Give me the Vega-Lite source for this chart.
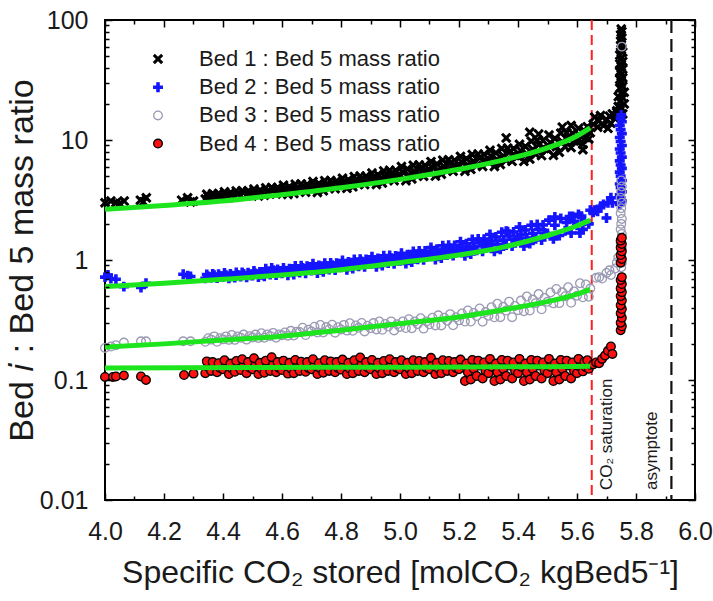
{
"$schema":"https://vega.github.io/schema/vega-lite/v6.json",
"width":590,"height":480,
"autosize":"none",
"padding":{"left":105,"top":20,"right":18,"bottom":101},
"background":"white",
"datasets":{
"pts":[
{"bed":1,"x":4.0,"y":3.0},{"bed":1,"x":4.02,"y":3.1},{"bed":1,"x":4.037,"y":3.0},{"bed":1,"x":4.065,"y":3.1},{"bed":1,"x":4.05,"y":2.95},{"bed":1,"x":4.12,"y":3.15},{"bed":1,"x":4.13,"y":3.05},{"bed":1,"x":4.14,"y":3.3},{"bed":1,"x":4.26,"y":3.15},{"bed":1,"x":4.28,"y":3.3},{"bed":1,"x":4.30,"y":3.1},{"bed":1,"x":4.29,"y":3.05},
{"bed":1,"x":4.34,"y":3.22},{"bed":1,"x":4.35,"y":3.38},{"bed":1,"x":4.345,"y":3.53},
{"bed":1,"x":4.36,"y":3.32},{"bed":1,"x":4.37,"y":3.48},{"bed":1,"x":4.365,"y":3.57},
{"bed":1,"x":4.38,"y":3.32},{"bed":1,"x":4.39,"y":3.43},{"bed":1,"x":4.385,"y":3.58},
{"bed":1,"x":4.40,"y":3.42},{"bed":1,"x":4.41,"y":3.54},{"bed":1,"x":4.405,"y":3.70},
{"bed":1,"x":4.42,"y":3.32},{"bed":1,"x":4.43,"y":3.47},{"bed":1,"x":4.425,"y":3.64},
{"bed":1,"x":4.44,"y":3.36},{"bed":1,"x":4.45,"y":3.56},{"bed":1,"x":4.445,"y":3.76},
{"bed":1,"x":4.46,"y":3.45},{"bed":1,"x":4.47,"y":3.66},{"bed":1,"x":4.465,"y":3.77},
{"bed":1,"x":4.48,"y":3.43},{"bed":1,"x":4.49,"y":3.57},{"bed":1,"x":4.485,"y":3.76},
{"bed":1,"x":4.50,"y":3.55},{"bed":1,"x":4.51,"y":3.70},{"bed":1,"x":4.505,"y":3.90},
{"bed":1,"x":4.52,"y":3.42},{"bed":1,"x":4.53,"y":3.61},{"bed":1,"x":4.525,"y":3.82},
{"bed":1,"x":4.54,"y":3.47},{"bed":1,"x":4.55,"y":3.73},{"bed":1,"x":4.545,"y":3.99},
{"bed":1,"x":4.56,"y":3.58},{"bed":1,"x":4.57,"y":3.86},{"bed":1,"x":4.565,"y":4.02},
{"bed":1,"x":4.58,"y":3.55},{"bed":1,"x":4.59,"y":3.74},{"bed":1,"x":4.585,"y":4.01},
{"bed":1,"x":4.60,"y":3.71},{"bed":1,"x":4.61,"y":3.92},{"bed":1,"x":4.605,"y":4.20},
{"bed":1,"x":4.62,"y":3.52},{"bed":1,"x":4.63,"y":3.78},{"bed":1,"x":4.625,"y":4.08},
{"bed":1,"x":4.64,"y":3.58},{"bed":1,"x":4.65,"y":3.93},{"bed":1,"x":4.645,"y":4.28},
{"bed":1,"x":4.66,"y":3.72},{"bed":1,"x":4.67,"y":4.09},{"bed":1,"x":4.665,"y":4.30},
{"bed":1,"x":4.68,"y":3.67},{"bed":1,"x":4.69,"y":3.92},{"bed":1,"x":4.685,"y":4.27},
{"bed":1,"x":4.70,"y":3.87},{"bed":1,"x":4.71,"y":4.14},{"bed":1,"x":4.705,"y":4.50},
{"bed":1,"x":4.72,"y":3.66},{"bed":1,"x":4.73,"y":3.98},{"bed":1,"x":4.725,"y":4.34},
{"bed":1,"x":4.74,"y":3.77},{"bed":1,"x":4.75,"y":4.17},{"bed":1,"x":4.745,"y":4.58},
{"bed":1,"x":4.76,"y":3.96},{"bed":1,"x":4.77,"y":4.37},{"bed":1,"x":4.765,"y":4.59},
{"bed":1,"x":4.78,"y":3.93},{"bed":1,"x":4.79,"y":4.20},{"bed":1,"x":4.785,"y":4.56},
{"bed":1,"x":4.80,"y":4.17},{"bed":1,"x":4.81,"y":4.44},{"bed":1,"x":4.805,"y":4.80},
{"bed":1,"x":4.82,"y":3.96},{"bed":1,"x":4.83,"y":4.29},{"bed":1,"x":4.825,"y":4.67},
{"bed":1,"x":4.84,"y":4.07},{"bed":1,"x":4.85,"y":4.51},{"bed":1,"x":4.845,"y":4.95},
{"bed":1,"x":4.86,"y":4.28},{"bed":1,"x":4.87,"y":4.74},{"bed":1,"x":4.865,"y":5.00},
{"bed":1,"x":4.88,"y":4.25},{"bed":1,"x":4.89,"y":4.56},{"bed":1,"x":4.885,"y":4.99},
{"bed":1,"x":4.90,"y":4.53},{"bed":1,"x":4.91,"y":4.86},{"bed":1,"x":4.905,"y":5.30},
{"bed":1,"x":4.92,"y":4.26},{"bed":1,"x":4.93,"y":4.67},{"bed":1,"x":4.925,"y":5.15},
{"bed":1,"x":4.94,"y":4.38},{"bed":1,"x":4.95,"y":4.95},{"bed":1,"x":4.945,"y":5.52},
{"bed":1,"x":4.96,"y":4.65},{"bed":1,"x":4.97,"y":5.25},{"bed":1,"x":4.965,"y":5.59},
{"bed":1,"x":4.98,"y":4.58},{"bed":1,"x":4.99,"y":5.01},{"bed":1,"x":4.985,"y":5.58},
{"bed":1,"x":5.00,"y":4.95},{"bed":1,"x":5.01,"y":5.40},{"bed":1,"x":5.005,"y":6.00},
{"bed":1,"x":5.02,"y":4.58},{"bed":1,"x":5.03,"y":5.12},{"bed":1,"x":5.025,"y":5.74},
{"bed":1,"x":5.04,"y":4.74},{"bed":1,"x":5.05,"y":5.45},{"bed":1,"x":5.045,"y":6.16},
{"bed":1,"x":5.06,"y":5.06},{"bed":1,"x":5.07,"y":5.79},{"bed":1,"x":5.065,"y":6.20},
{"bed":1,"x":5.08,"y":4.99},{"bed":1,"x":5.09,"y":5.48},{"bed":1,"x":5.085,"y":6.15},
{"bed":1,"x":5.10,"y":5.41},{"bed":1,"x":5.11,"y":5.92},{"bed":1,"x":5.105,"y":6.60},
{"bed":1,"x":5.12,"y":5.00},{"bed":1,"x":5.13,"y":5.61},{"bed":1,"x":5.125,"y":6.31},
{"bed":1,"x":5.14,"y":5.19},{"bed":1,"x":5.15,"y":5.99},{"bed":1,"x":5.145,"y":6.79},
{"bed":1,"x":5.16,"y":5.56},{"bed":1,"x":5.17,"y":6.38},{"bed":1,"x":5.165,"y":6.84},
{"bed":1,"x":5.18,"y":5.49},{"bed":1,"x":5.19,"y":6.04},{"bed":1,"x":5.185,"y":6.79},
{"bed":1,"x":5.20,"y":5.97},{"bed":1,"x":5.21,"y":6.54},{"bed":1,"x":5.205,"y":7.30},
{"bed":1,"x":5.22,"y":5.50},{"bed":1,"x":5.23,"y":6.19},{"bed":1,"x":5.225,"y":6.99},
{"bed":1,"x":5.24,"y":5.70},{"bed":1,"x":5.25,"y":6.63},{"bed":1,"x":5.245,"y":7.56},
{"bed":1,"x":5.26,"y":6.13},{"bed":1,"x":5.27,"y":7.09},{"bed":1,"x":5.265,"y":7.63},
{"bed":1,"x":5.28,"y":6.02},{"bed":1,"x":5.29,"y":6.69},{"bed":1,"x":5.285,"y":7.58},
{"bed":1,"x":5.30,"y":6.59},{"bed":1,"x":5.31,"y":7.28},{"bed":1,"x":5.305,"y":8.20},
{"bed":1,"x":5.32,"y":6.02},{"bed":1,"x":5.33,"y":6.85},{"bed":1,"x":5.325,"y":7.81},
{"bed":1,"x":5.34,"y":6.26},{"bed":1,"x":5.35,"y":7.37},{"bed":1,"x":5.345,"y":8.48},
{"bed":1,"x":5.36,"y":6.77},{"bed":1,"x":5.37,"y":7.91},{"bed":1,"x":5.365,"y":8.55},
{"bed":1,"x":5.38,"y":6.64},{"bed":1,"x":5.39,"y":7.43},{"bed":1,"x":5.385,"y":8.48},
{"bed":1,"x":5.40,"y":7.31},{"bed":1,"x":5.41,"y":8.12},{"bed":1,"x":5.405,"y":9.20},
{"bed":1,"x":5.42,"y":6.64},{"bed":1,"x":5.43,"y":7.66},{"bed":1,"x":5.425,"y":8.83},
{"bed":1,"x":5.44,"y":6.94},{"bed":1,"x":5.45,"y":8.35},{"bed":1,"x":5.445,"y":9.76},
{"bed":1,"x":5.46,"y":7.60},{"bed":1,"x":5.47,"y":9.12},{"bed":1,"x":5.465,"y":9.96},
{"bed":1,"x":5.48,"y":7.41},{"bed":1,"x":5.49,"y":8.48},{"bed":1,"x":5.485,"y":9.89},
{"bed":1,"x":5.50,"y":8.34},{"bed":1,"x":5.51,"y":9.48},{"bed":1,"x":5.505,"y":11.0},
{"bed":1,"x":5.52,"y":7.46},{"bed":1,"x":5.53,"y":8.80},{"bed":1,"x":5.525,"y":10.3},
{"bed":1,"x":5.54,"y":7.91},{"bed":1,"x":5.55,"y":9.66},{"bed":1,"x":5.545,"y":11.4},
{"bed":1,"x":5.56,"y":8.76},{"bed":1,"x":5.57,"y":10.5},{"bed":1,"x":5.565,"y":11.5},
{"bed":1,"x":5.58,"y":8.64},{"bed":1,"x":5.59,"y":9.82},{"bed":1,"x":5.585,"y":11.4},
{"bed":1,"x":5.60,"y":9.70},{"bed":1,"x":5.61,"y":10.9},{"bed":1,"x":5.605,"y":12.5},
{"bed":1,"x":5.62,"y":9.20},{"bed":1,"x":5.63,"y":10.5},{"bed":1,"x":5.625,"y":11.9},
{"bed":1,"x":5.64,"y":10.2},{"bed":1,"x":5.645,"y":11.5},{"bed":1,"x":5.635,"y":12.9},
{"bed":1,"x":5.36,"y":10.4},{"bed":1,"x":5.44,"y":11.6},{"bed":1,"x":5.55,"y":12.8},{"bed":1,"x":5.62,"y":8.3},{"bed":1,"x":5.58,"y":13.2},{"bed":1,"x":5.47,"y":11.2},
{"bed":1,"x":5.655,"y":13.5},{"bed":1,"x":5.66,"y":15.5},{"bed":1,"x":5.67,"y":12.8},{"bed":1,"x":5.675,"y":14.5},{"bed":1,"x":5.68,"y":16},{"bed":1,"x":5.69,"y":13.2},{"bed":1,"x":5.70,"y":14.8},{"bed":1,"x":5.705,"y":12.5},{"bed":1,"x":5.71,"y":15.8},{"bed":1,"x":5.715,"y":13.8},{"bed":1,"x":5.72,"y":16.5},{"bed":1,"x":5.73,"y":15},{"bed":1,"x":5.735,"y":17},
{"bed":1,"x":5.735,"y":17.5},{"bed":1,"x":5.745,"y":17.5},{"bed":1,"x":5.755,"y":16.5},{"bed":1,"x":5.74,"y":19},{"bed":1,"x":5.75,"y":18.5},{"bed":1,"x":5.76,"y":20},{"bed":1,"x":5.745,"y":21},{"bed":1,"x":5.755,"y":22.5},{"bed":1,"x":5.74,"y":23},{"bed":1,"x":5.75,"y":24.5},{"bed":1,"x":5.76,"y":25},{"bed":1,"x":5.745,"y":27},{"bed":1,"x":5.755,"y":28},{"bed":1,"x":5.75,"y":30},{"bed":1,"x":5.745,"y":32},{"bed":1,"x":5.755,"y":33},{"bed":1,"x":5.75,"y":35},{"bed":1,"x":5.745,"y":37},{"bed":1,"x":5.755,"y":39},{"bed":1,"x":5.75,"y":41},{"bed":1,"x":5.745,"y":43},{"bed":1,"x":5.755,"y":45},{"bed":1,"x":5.75,"y":48},{"bed":1,"x":5.745,"y":51},{"bed":1,"x":5.755,"y":54},{"bed":1,"x":5.75,"y":57},{"bed":1,"x":5.748,"y":61},{"bed":1,"x":5.752,"y":65},{"bed":1,"x":5.75,"y":70},{"bed":1,"x":5.748,"y":75},{"bed":1,"x":5.752,"y":80},{"bed":1,"x":5.75,"y":84},

{"bed":2,"x":4.0,"y":0.72},{"bed":2,"x":4.01,"y":0.75},{"bed":2,"x":4.02,"y":0.70},{"bed":2,"x":4.037,"y":0.69},{"bed":2,"x":4.064,"y":0.60},{"bed":2,"x":4.122,"y":0.59},{"bed":2,"x":4.139,"y":0.64},{"bed":2,"x":4.265,"y":0.76},{"bed":2,"x":4.28,"y":0.74},{"bed":2,"x":4.29,"y":0.73},
{"bed":2,"x":4.34,"y":0.703},{"bed":2,"x":4.35,"y":0.73},{"bed":2,"x":4.345,"y":0.757},
{"bed":2,"x":4.36,"y":0.714},{"bed":2,"x":4.37,"y":0.746},{"bed":2,"x":4.365,"y":0.763},
{"bed":2,"x":4.38,"y":0.708},{"bed":2,"x":4.39,"y":0.73},{"bed":2,"x":4.385,"y":0.76},
{"bed":2,"x":4.40,"y":0.724},{"bed":2,"x":4.41,"y":0.748},{"bed":2,"x":4.405,"y":0.78},
{"bed":2,"x":4.42,"y":0.705},{"bed":2,"x":4.43,"y":0.733},{"bed":2,"x":4.425,"y":0.765},
{"bed":2,"x":4.44,"y":0.714},{"bed":2,"x":4.45,"y":0.75},{"bed":2,"x":4.445,"y":0.786},
{"bed":2,"x":4.46,"y":0.727},{"bed":2,"x":4.47,"y":0.765},{"bed":2,"x":4.465,"y":0.787},
{"bed":2,"x":4.48,"y":0.719},{"bed":2,"x":4.49,"y":0.746},{"bed":2,"x":4.485,"y":0.782},
{"bed":2,"x":4.50,"y":0.744},{"bed":2,"x":4.51,"y":0.772},{"bed":2,"x":4.505,"y":0.81},
{"bed":2,"x":4.52,"y":0.72},{"bed":2,"x":4.53,"y":0.755},{"bed":2,"x":4.525,"y":0.795},
{"bed":2,"x":4.54,"y":0.731},{"bed":2,"x":4.55,"y":0.788},{"bed":2,"x":4.545,"y":0.844},
{"bed":2,"x":4.56,"y":0.758},{"bed":2,"x":4.57,"y":0.821},{"bed":2,"x":4.565,"y":0.856},
{"bed":2,"x":4.58,"y":0.748},{"bed":2,"x":4.59,"y":0.785},{"bed":2,"x":4.585,"y":0.835},
{"bed":2,"x":4.60,"y":0.776},{"bed":2,"x":4.61,"y":0.812},{"bed":2,"x":4.605,"y":0.86},
{"bed":2,"x":4.62,"y":0.745},{"bed":2,"x":4.63,"y":0.792},{"bed":2,"x":4.625,"y":0.846},
{"bed":2,"x":4.64,"y":0.758},{"bed":2,"x":4.65,"y":0.825},{"bed":2,"x":4.645,"y":0.893},
{"bed":2,"x":4.66,"y":0.786},{"bed":2,"x":4.67,"y":0.856},{"bed":2,"x":4.665,"y":0.895},
{"bed":2,"x":4.68,"y":0.776},{"bed":2,"x":4.69,"y":0.824},{"bed":2,"x":4.685,"y":0.888},
{"bed":2,"x":4.70,"y":0.818},{"bed":2,"x":4.71,"y":0.866},{"bed":2,"x":4.705,"y":0.93},
{"bed":2,"x":4.72,"y":0.78},{"bed":2,"x":4.73,"y":0.836},{"bed":2,"x":4.725,"y":0.90},
{"bed":2,"x":4.74,"y":0.798},{"bed":2,"x":4.75,"y":0.87},{"bed":2,"x":4.745,"y":0.942},
{"bed":2,"x":4.76,"y":0.832},{"bed":2,"x":4.77,"y":0.904},{"bed":2,"x":4.765,"y":0.944},
{"bed":2,"x":4.78,"y":0.827},{"bed":2,"x":4.79,"y":0.876},{"bed":2,"x":4.785,"y":0.942},
{"bed":2,"x":4.80,"y":0.871},{"bed":2,"x":4.81,"y":0.922},{"bed":2,"x":4.805,"y":0.99},
{"bed":2,"x":4.82,"y":0.83},{"bed":2,"x":4.83,"y":0.891},{"bed":2,"x":4.825,"y":0.961},
{"bed":2,"x":4.84,"y":0.849},{"bed":2,"x":4.85,"y":0.93},{"bed":2,"x":4.845,"y":1.011},
{"bed":2,"x":4.86,"y":0.887},{"bed":2,"x":4.87,"y":0.97},{"bed":2,"x":4.865,"y":1.017},
{"bed":2,"x":4.88,"y":0.879},{"bed":2,"x":4.89,"y":0.936},{"bed":2,"x":4.885,"y":1.012},
{"bed":2,"x":4.90,"y":0.929},{"bed":2,"x":4.91,"y":0.987},{"bed":2,"x":4.905,"y":1.065},
{"bed":2,"x":4.92,"y":0.88},{"bed":2,"x":4.93,"y":0.95},{"bed":2,"x":4.925,"y":1.03},
{"bed":2,"x":4.94,"y":0.90},{"bed":2,"x":4.95,"y":0.993},{"bed":2,"x":4.945,"y":1.085},
{"bed":2,"x":4.96,"y":0.942},{"bed":2,"x":4.97,"y":1.037},{"bed":2,"x":4.965,"y":1.089},
{"bed":2,"x":4.98,"y":0.932},{"bed":2,"x":4.99,"y":0.996},{"bed":2,"x":4.985,"y":1.082},
{"bed":2,"x":5.00,"y":0.986},{"bed":2,"x":5.01,"y":1.052},{"bed":2,"x":5.005,"y":1.14},
{"bed":2,"x":5.02,"y":0.935},{"bed":2,"x":5.03,"y":1.016},{"bed":2,"x":5.025,"y":1.108},
{"bed":2,"x":5.04,"y":0.962},{"bed":2,"x":5.05,"y":1.07},{"bed":2,"x":5.045,"y":1.178},
{"bed":2,"x":5.06,"y":1.015},{"bed":2,"x":5.07,"y":1.128},{"bed":2,"x":5.065,"y":1.19},
{"bed":2,"x":5.08,"y":1.006},{"bed":2,"x":5.09,"y":1.084},{"bed":2,"x":5.085,"y":1.188},
{"bed":2,"x":5.10,"y":1.078},{"bed":2,"x":5.11,"y":1.16},{"bed":2,"x":5.105,"y":1.27},
{"bed":2,"x":5.12,"y":1.01},{"bed":2,"x":5.13,"y":1.112},{"bed":2,"x":5.125,"y":1.228},
{"bed":2,"x":5.14,"y":1.04},{"bed":2,"x":5.15,"y":1.178},{"bed":2,"x":5.145,"y":1.315},
{"bed":2,"x":5.16,"y":1.104},{"bed":2,"x":5.17,"y":1.248},{"bed":2,"x":5.165,"y":1.328},
{"bed":2,"x":5.18,"y":1.089},{"bed":2,"x":5.19,"y":1.189},{"bed":2,"x":5.185,"y":1.323},
{"bed":2,"x":5.20,"y":1.175},{"bed":2,"x":5.21,"y":1.28},{"bed":2,"x":5.205,"y":1.42},
{"bed":2,"x":5.22,"y":1.085},{"bed":2,"x":5.23,"y":1.216},{"bed":2,"x":5.225,"y":1.366},
{"bed":2,"x":5.24,"y":1.12},{"bed":2,"x":5.25,"y":1.30},{"bed":2,"x":5.245,"y":1.48},
{"bed":2,"x":5.26,"y":1.204},{"bed":2,"x":5.27,"y":1.393},{"bed":2,"x":5.265,"y":1.498},
{"bed":2,"x":5.28,"y":1.184},{"bed":2,"x":5.29,"y":1.316},{"bed":2,"x":5.285,"y":1.492},
{"bed":2,"x":5.30,"y":1.30},{"bed":2,"x":5.31,"y":1.44},{"bed":2,"x":5.305,"y":1.63},
{"bed":2,"x":5.32,"y":1.18},{"bed":2,"x":5.33,"y":1.355},{"bed":2,"x":5.325,"y":1.555},
{"bed":2,"x":5.34,"y":1.227},{"bed":2,"x":5.35,"y":1.465},{"bed":2,"x":5.345,"y":1.704},
{"bed":2,"x":5.36,"y":1.332},{"bed":2,"x":5.37,"y":1.584},{"bed":2,"x":5.365,"y":1.724},
{"bed":2,"x":5.38,"y":1.308},{"bed":2,"x":5.39,"y":1.482},{"bed":2,"x":5.385,"y":1.714},
{"bed":2,"x":5.40,"y":1.46},{"bed":2,"x":5.41,"y":1.64},{"bed":2,"x":5.405,"y":1.88},
{"bed":2,"x":5.42,"y":1.31},{"bed":2,"x":5.43,"y":1.527},{"bed":2,"x":5.425,"y":1.775},
{"bed":2,"x":5.44,"y":1.372},{"bed":2,"x":5.45,"y":1.66},{"bed":2,"x":5.445,"y":1.948},
{"bed":2,"x":5.46,"y":1.504},{"bed":2,"x":5.47,"y":1.806},{"bed":2,"x":5.465,"y":1.973},
{"bed":2,"x":5.48,"y":1.47},{"bed":2,"x":5.49,"y":1.68},{"bed":2,"x":5.485,"y":1.96},
{"bed":2,"x":5.50,"y":1.66},{"bed":2,"x":5.505,"y":2.15},
{"bed":2,"x":5.52,"y":1.5},{"bed":2,"x":5.525,"y":1.95},
{"bed":2,"x":5.54,"y":1.6},{"bed":2,"x":5.545,"y":2.22},
{"bed":2,"x":5.56,"y":1.75},{"bed":2,"x":5.565,"y":2.05},
{"bed":2,"x":5.58,"y":1.68},{"bed":2,"x":5.585,"y":2.3},
{"bed":2,"x":5.60,"y":1.95},{"bed":2,"x":5.605,"y":2.4},
{"bed":2,"x":5.62,"y":1.8},{"bed":2,"x":5.625,"y":2.1},
{"bed":2,"x":5.64,"y":2.0},{"bed":2,"x":5.645,"y":2.6},
{"bed":2,"x":5.36,"y":1.74},{"bed":2,"x":5.525,"y":2.28},{"bed":2,"x":5.575,"y":2.3},{"bed":2,"x":5.61,"y":1.68},{"bed":2,"x":5.615,"y":2.32},{"bed":2,"x":5.59,"y":2.1},
{"bed":2,"x":5.655,"y":2.5},{"bed":2,"x":5.66,"y":2.6},{"bed":2,"x":5.67,"y":2.55},{"bed":2,"x":5.68,"y":2.8},{"bed":2,"x":5.69,"y":2.9},{"bed":2,"x":5.70,"y":2.24},{"bed":2,"x":5.705,"y":3.0},{"bed":2,"x":5.715,"y":3.3},{"bed":2,"x":5.72,"y":3.0},
{"bed":2,"x":5.745,"y":2.9},{"bed":2,"x":5.752,"y":3.1},{"bed":2,"x":5.748,"y":3.3},{"bed":2,"x":5.745,"y":3.5},{"bed":2,"x":5.752,"y":3.7},{"bed":2,"x":5.748,"y":4.0},{"bed":2,"x":5.745,"y":4.3},{"bed":2,"x":5.752,"y":4.6},{"bed":2,"x":5.748,"y":5.0},{"bed":2,"x":5.745,"y":5.4},{"bed":2,"x":5.752,"y":5.8},{"bed":2,"x":5.748,"y":6.2},{"bed":2,"x":5.745,"y":6.7},{"bed":2,"x":5.752,"y":7.2},{"bed":2,"x":5.748,"y":7.8},{"bed":2,"x":5.745,"y":8.4},{"bed":2,"x":5.752,"y":9.0},{"bed":2,"x":5.748,"y":9.7},{"bed":2,"x":5.745,"y":10.5},{"bed":2,"x":5.752,"y":11.3},{"bed":2,"x":5.748,"y":12.2},{"bed":2,"x":5.745,"y":13.2},{"bed":2,"x":5.752,"y":14.2},{"bed":2,"x":5.748,"y":15.2},{"bed":2,"x":5.75,"y":16.2},

{"bed":3,"x":4.0,"y":0.185},{"bed":3,"x":4.02,"y":0.19},{"bed":3,"x":4.037,"y":0.195},{"bed":3,"x":4.064,"y":0.205},{"bed":3,"x":4.122,"y":0.21},{"bed":3,"x":4.139,"y":0.21},{"bed":3,"x":4.265,"y":0.21},{"bed":3,"x":4.29,"y":0.21},
{"bed":3,"x":4.34,"y":0.208},{"bed":3,"x":4.35,"y":0.223},
{"bed":3,"x":4.36,"y":0.217},{"bed":3,"x":4.37,"y":0.231},
{"bed":3,"x":4.38,"y":0.208},{"bed":3,"x":4.39,"y":0.223},
{"bed":3,"x":4.40,"y":0.218},{"bed":3,"x":4.41,"y":0.231},
{"bed":3,"x":4.42,"y":0.216},{"bed":3,"x":4.43,"y":0.237},
{"bed":3,"x":4.44,"y":0.216},{"bed":3,"x":4.45,"y":0.231},
{"bed":3,"x":4.46,"y":0.225},{"bed":3,"x":4.47,"y":0.239},
{"bed":3,"x":4.48,"y":0.217},{"bed":3,"x":4.49,"y":0.232},
{"bed":3,"x":4.50,"y":0.226},{"bed":3,"x":4.51,"y":0.239},
{"bed":3,"x":4.52,"y":0.224},{"bed":3,"x":4.53,"y":0.245},
{"bed":3,"x":4.54,"y":0.225},{"bed":3,"x":4.55,"y":0.24},
{"bed":3,"x":4.56,"y":0.233},{"bed":3,"x":4.57,"y":0.247},
{"bed":3,"x":4.58,"y":0.225},{"bed":3,"x":4.59,"y":0.24},
{"bed":3,"x":4.60,"y":0.236},{"bed":3,"x":4.61,"y":0.249},
{"bed":3,"x":4.62,"y":0.234},{"bed":3,"x":4.63,"y":0.257},
{"bed":3,"x":4.64,"y":0.235},{"bed":3,"x":4.65,"y":0.253},
{"bed":3,"x":4.66,"y":0.251},{"bed":3,"x":4.67,"y":0.273},
{"bed":3,"x":4.68,"y":0.237},{"bed":3,"x":4.69,"y":0.263},
{"bed":3,"x":4.70,"y":0.254},{"bed":3,"x":4.71,"y":0.278},
{"bed":3,"x":4.72,"y":0.249},{"bed":3,"x":4.73,"y":0.287},
{"bed":3,"x":4.74,"y":0.249},{"bed":3,"x":4.75,"y":0.276},
{"bed":3,"x":4.76,"y":0.264},{"bed":3,"x":4.77,"y":0.289},
{"bed":3,"x":4.78,"y":0.248},{"bed":3,"x":4.79,"y":0.275},
{"bed":3,"x":4.80,"y":0.264},{"bed":3,"x":4.81,"y":0.288},
{"bed":3,"x":4.82,"y":0.258},{"bed":3,"x":4.83,"y":0.297},
{"bed":3,"x":4.84,"y":0.257},{"bed":3,"x":4.85,"y":0.285},
{"bed":3,"x":4.86,"y":0.272},{"bed":3,"x":4.87,"y":0.299},
{"bed":3,"x":4.88,"y":0.254},{"bed":3,"x":4.89,"y":0.283},
{"bed":3,"x":4.90,"y":0.27},{"bed":3,"x":4.91,"y":0.298},
{"bed":3,"x":4.92,"y":0.264},{"bed":3,"x":4.93,"y":0.307},
{"bed":3,"x":4.94,"y":0.262},{"bed":3,"x":4.95,"y":0.293},
{"bed":3,"x":4.96,"y":0.279},{"bed":3,"x":4.97,"y":0.308},
{"bed":3,"x":4.98,"y":0.259},{"bed":3,"x":4.99,"y":0.291},
{"bed":3,"x":5.00,"y":0.277},{"bed":3,"x":5.01,"y":0.308},
{"bed":3,"x":5.02,"y":0.271},{"bed":3,"x":5.03,"y":0.321},
{"bed":3,"x":5.04,"y":0.27},{"bed":3,"x":5.05,"y":0.307},
{"bed":3,"x":5.06,"y":0.292},{"bed":3,"x":5.07,"y":0.327},
{"bed":3,"x":5.08,"y":0.268},{"bed":3,"x":5.09,"y":0.308},
{"bed":3,"x":5.10,"y":0.291},{"bed":3,"x":5.11,"y":0.33},
{"bed":3,"x":5.12,"y":0.285},{"bed":3,"x":5.13,"y":0.346},
{"bed":3,"x":5.14,"y":0.285},{"bed":3,"x":5.15,"y":0.33},
{"bed":3,"x":5.16,"y":0.312},{"bed":3,"x":5.17,"y":0.354},
{"bed":3,"x":5.18,"y":0.286},{"bed":3,"x":5.19,"y":0.333},
{"bed":3,"x":5.20,"y":0.314},{"bed":3,"x":5.21,"y":0.358},
{"bed":3,"x":5.22,"y":0.307},{"bed":3,"x":5.23,"y":0.38},
{"bed":3,"x":5.24,"y":0.307},{"bed":3,"x":5.25,"y":0.362},
{"bed":3,"x":5.26,"y":0.341},{"bed":3,"x":5.27,"y":0.395},
{"bed":3,"x":5.28,"y":0.306},{"bed":3,"x":5.29,"y":0.368},
{"bed":3,"x":5.30,"y":0.343},{"bed":3,"x":5.31,"y":0.404},
{"bed":3,"x":5.32,"y":0.333},{"bed":3,"x":5.33,"y":0.432},
{"bed":3,"x":5.34,"y":0.334},{"bed":3,"x":5.35,"y":0.407},
{"bed":3,"x":5.36,"y":0.379},{"bed":3,"x":5.37,"y":0.45},
{"bed":3,"x":5.38,"y":0.334},{"bed":3,"x":5.39,"y":0.414},
{"bed":3,"x":5.40,"y":0.382},{"bed":3,"x":5.41,"y":0.459},
{"bed":3,"x":5.42,"y":0.374},{"bed":3,"x":5.43,"y":0.496},
{"bed":3,"x":5.44,"y":0.379},{"bed":3,"x":5.45,"y":0.468},
{"bed":3,"x":5.46,"y":0.437},{"bed":3,"x":5.47,"y":0.52},
{"bed":3,"x":5.48,"y":0.388},{"bed":3,"x":5.49,"y":0.482},
{"bed":3,"x":5.50,"y":0.448},{"bed":3,"x":5.51,"y":0.536},
{"bed":3,"x":5.52,"y":0.435},{"bed":3,"x":5.53,"y":0.574},
{"bed":3,"x":5.54,"y":0.437},{"bed":3,"x":5.55,"y":0.538},
{"bed":3,"x":5.56,"y":0.499},{"bed":3,"x":5.57,"y":0.593},
{"bed":3,"x":5.58,"y":0.44},{"bed":3,"x":5.59,"y":0.546},
{"bed":3,"x":5.60,"y":0.504},{"bed":3,"x":5.61,"y":0.64},
{"bed":3,"x":5.62,"y":0.489},{"bed":3,"x":5.63,"y":0.625},
{"bed":3,"x":5.64,"y":0.494},{"bed":3,"x":5.645,"y":0.578},
{"bed":3,"x":5.665,"y":0.71},{"bed":3,"x":5.675,"y":0.72},{"bed":3,"x":5.685,"y":0.7},{"bed":3,"x":5.70,"y":0.78},{"bed":3,"x":5.71,"y":0.82},{"bed":3,"x":5.715,"y":0.75},{"bed":3,"x":5.73,"y":0.85},{"bed":3,"x":5.735,"y":0.95},{"bed":3,"x":5.74,"y":1.05},
{"bed":3,"x":5.75,"y":0.87},{"bed":3,"x":5.752,"y":0.95},{"bed":3,"x":5.748,"y":1.05},{"bed":3,"x":5.75,"y":1.15},{"bed":3,"x":5.752,"y":1.25},{"bed":3,"x":5.748,"y":1.38},{"bed":3,"x":5.75,"y":1.5},{"bed":3,"x":5.752,"y":1.65},{"bed":3,"x":5.748,"y":1.8},{"bed":3,"x":5.75,"y":2.0},{"bed":3,"x":5.752,"y":2.2},{"bed":3,"x":5.748,"y":2.45},{"bed":3,"x":5.75,"y":2.7},{"bed":3,"x":5.752,"y":3.0},{"bed":3,"x":5.748,"y":3.3},{"bed":3,"x":5.75,"y":3.7},{"bed":3,"x":5.752,"y":4.1},{"bed":3,"x":5.75,"y":4.6},{"bed":3,"x":5.752,"y":60},

{"bed":4,"x":4.0,"y":0.106},{"bed":4,"x":4.027,"y":0.106},{"bed":4,"x":4.037,"y":0.107},{"bed":4,"x":4.064,"y":0.109},{"bed":4,"x":4.122,"y":0.107},{"bed":4,"x":4.139,"y":0.1},{"bed":4,"x":4.268,"y":0.11},{"bed":4,"x":4.3,"y":0.113},
{"bed":4,"x":4.34,"y":0.114},{"bed":4,"x":4.35,"y":0.128},{"bed":4,"x":4.345,"y":0.143},
{"bed":4,"x":4.36,"y":0.119},{"bed":4,"x":4.37,"y":0.135},{"bed":4,"x":4.365,"y":0.141},
{"bed":4,"x":4.38,"y":0.116},{"bed":4,"x":4.39,"y":0.126},{"bed":4,"x":4.385,"y":0.138},
{"bed":4,"x":4.40,"y":0.123},{"bed":4,"x":4.41,"y":0.132},{"bed":4,"x":4.405,"y":0.146},
{"bed":4,"x":4.42,"y":0.112},{"bed":4,"x":4.43,"y":0.125},{"bed":4,"x":4.425,"y":0.137},
{"bed":4,"x":4.44,"y":0.117},{"bed":4,"x":4.45,"y":0.13},{"bed":4,"x":4.445,"y":0.144},
{"bed":4,"x":4.46,"y":0.121},{"bed":4,"x":4.47,"y":0.133},{"bed":4,"x":4.465,"y":0.149},
{"bed":4,"x":4.48,"y":0.114},{"bed":4,"x":4.49,"y":0.127},{"bed":4,"x":4.485,"y":0.141},
{"bed":4,"x":4.50,"y":0.123},{"bed":4,"x":4.51,"y":0.134},{"bed":4,"x":4.505,"y":0.152},
{"bed":4,"x":4.52,"y":0.112},{"bed":4,"x":4.53,"y":0.124},{"bed":4,"x":4.525,"y":0.139},
{"bed":4,"x":4.54,"y":0.115},{"bed":4,"x":4.55,"y":0.131},{"bed":4,"x":4.545,"y":0.145},
{"bed":4,"x":4.56,"y":0.119},{"bed":4,"x":4.57,"y":0.136},{"bed":4,"x":4.565,"y":0.155},
{"bed":4,"x":4.58,"y":0.116},{"bed":4,"x":4.59,"y":0.126},{"bed":4,"x":4.585,"y":0.141},
{"bed":4,"x":4.60,"y":0.121},{"bed":4,"x":4.61,"y":0.134},{"bed":4,"x":4.605,"y":0.145},
{"bed":4,"x":4.62,"y":0.113},{"bed":4,"x":4.63,"y":0.125},{"bed":4,"x":4.625,"y":0.139},
{"bed":4,"x":4.64,"y":0.114},{"bed":4,"x":4.65,"y":0.129},{"bed":4,"x":4.645,"y":0.147},
{"bed":4,"x":4.66,"y":0.119},{"bed":4,"x":4.67,"y":0.135},{"bed":4,"x":4.665,"y":0.142},
{"bed":4,"x":4.68,"y":0.117},{"bed":4,"x":4.69,"y":0.126},{"bed":4,"x":4.685,"y":0.141},
{"bed":4,"x":4.70,"y":0.123},{"bed":4,"x":4.71,"y":0.133},{"bed":4,"x":4.705,"y":0.149},
{"bed":4,"x":4.72,"y":0.112},{"bed":4,"x":4.73,"y":0.125},{"bed":4,"x":4.725,"y":0.138},
{"bed":4,"x":4.74,"y":0.115},{"bed":4,"x":4.75,"y":0.13},{"bed":4,"x":4.745,"y":0.146},
{"bed":4,"x":4.76,"y":0.119},{"bed":4,"x":4.77,"y":0.136},{"bed":4,"x":4.765,"y":0.143},
{"bed":4,"x":4.78,"y":0.116},{"bed":4,"x":4.79,"y":0.126},{"bed":4,"x":4.785,"y":0.141},
{"bed":4,"x":4.80,"y":0.122},{"bed":4,"x":4.81,"y":0.134},{"bed":4,"x":4.805,"y":0.148},
{"bed":4,"x":4.82,"y":0.112},{"bed":4,"x":4.83,"y":0.124},{"bed":4,"x":4.825,"y":0.139},
{"bed":4,"x":4.84,"y":0.114},{"bed":4,"x":4.85,"y":0.13},{"bed":4,"x":4.845,"y":0.146},
{"bed":4,"x":4.86,"y":0.119},{"bed":4,"x":4.87,"y":0.135},{"bed":4,"x":4.865,"y":0.154},
{"bed":4,"x":4.88,"y":0.116},{"bed":4,"x":4.89,"y":0.127},{"bed":4,"x":4.885,"y":0.141},
{"bed":4,"x":4.90,"y":0.123},{"bed":4,"x":4.91,"y":0.134},{"bed":4,"x":4.905,"y":0.147},
{"bed":4,"x":4.92,"y":0.112},{"bed":4,"x":4.93,"y":0.125},{"bed":4,"x":4.925,"y":0.139},
{"bed":4,"x":4.94,"y":0.114},{"bed":4,"x":4.95,"y":0.13},{"bed":4,"x":4.945,"y":0.144},
{"bed":4,"x":4.96,"y":0.119},{"bed":4,"x":4.97,"y":0.135},{"bed":4,"x":4.965,"y":0.149},
{"bed":4,"x":4.98,"y":0.116},{"bed":4,"x":4.99,"y":0.126},{"bed":4,"x":4.985,"y":0.141},
{"bed":4,"x":5.00,"y":0.123},{"bed":4,"x":5.01,"y":0.134},{"bed":4,"x":5.005,"y":0.146},
{"bed":4,"x":5.02,"y":0.112},{"bed":4,"x":5.03,"y":0.125},{"bed":4,"x":5.025,"y":0.139},
{"bed":4,"x":5.04,"y":0.114},{"bed":4,"x":5.05,"y":0.13},{"bed":4,"x":5.045,"y":0.146},
{"bed":4,"x":5.06,"y":0.119},{"bed":4,"x":5.07,"y":0.135},{"bed":4,"x":5.065,"y":0.144},
{"bed":4,"x":5.08,"y":0.116},{"bed":4,"x":5.09,"y":0.126},{"bed":4,"x":5.085,"y":0.141},
{"bed":4,"x":5.10,"y":0.123},{"bed":4,"x":5.11,"y":0.134},{"bed":4,"x":5.105,"y":0.153},
{"bed":4,"x":5.12,"y":0.112},{"bed":4,"x":5.13,"y":0.125},{"bed":4,"x":5.125,"y":0.139},
{"bed":4,"x":5.14,"y":0.114},{"bed":4,"x":5.15,"y":0.13},{"bed":4,"x":5.145,"y":0.146},
{"bed":4,"x":5.16,"y":0.119},{"bed":4,"x":5.17,"y":0.135},{"bed":4,"x":5.165,"y":0.144},
{"bed":4,"x":5.18,"y":0.116},{"bed":4,"x":5.19,"y":0.126},{"bed":4,"x":5.185,"y":0.141},
{"bed":4,"x":5.20,"y":0.123},{"bed":4,"x":5.21,"y":0.134},{"bed":4,"x":5.205,"y":0.148},
{"bed":4,"x":5.22,"y":0.098},{"bed":4,"x":5.23,"y":0.116},{"bed":4,"x":5.225,"y":0.137},
{"bed":4,"x":5.24,"y":0.101},{"bed":4,"x":5.25,"y":0.124},{"bed":4,"x":5.245,"y":0.147},
{"bed":4,"x":5.26,"y":0.108},{"bed":4,"x":5.27,"y":0.132},{"bed":4,"x":5.265,"y":0.145},
{"bed":4,"x":5.28,"y":0.103},{"bed":4,"x":5.29,"y":0.119},{"bed":4,"x":5.285,"y":0.14},
{"bed":4,"x":5.30,"y":0.114},{"bed":4,"x":5.31,"y":0.129},{"bed":4,"x":5.305,"y":0.15},
{"bed":4,"x":5.32,"y":0.098},{"bed":4,"x":5.33,"y":0.116},{"bed":4,"x":5.325,"y":0.137},
{"bed":4,"x":5.34,"y":0.101},{"bed":4,"x":5.35,"y":0.124},{"bed":4,"x":5.345,"y":0.147},
{"bed":4,"x":5.36,"y":0.108},{"bed":4,"x":5.37,"y":0.132},{"bed":4,"x":5.365,"y":0.145},
{"bed":4,"x":5.38,"y":0.103},{"bed":4,"x":5.39,"y":0.119},{"bed":4,"x":5.385,"y":0.14},
{"bed":4,"x":5.40,"y":0.114},{"bed":4,"x":5.41,"y":0.129},{"bed":4,"x":5.405,"y":0.15},
{"bed":4,"x":5.42,"y":0.098},{"bed":4,"x":5.43,"y":0.116},{"bed":4,"x":5.425,"y":0.137},
{"bed":4,"x":5.44,"y":0.101},{"bed":4,"x":5.45,"y":0.124},{"bed":4,"x":5.445,"y":0.147},
{"bed":4,"x":5.46,"y":0.108},{"bed":4,"x":5.47,"y":0.132},{"bed":4,"x":5.465,"y":0.145},
{"bed":4,"x":5.48,"y":0.103},{"bed":4,"x":5.49,"y":0.119},{"bed":4,"x":5.485,"y":0.14},
{"bed":4,"x":5.50,"y":0.114},{"bed":4,"x":5.51,"y":0.129},{"bed":4,"x":5.505,"y":0.15},
{"bed":4,"x":5.52,"y":0.098},{"bed":4,"x":5.53,"y":0.116},{"bed":4,"x":5.525,"y":0.137},
{"bed":4,"x":5.54,"y":0.101},{"bed":4,"x":5.55,"y":0.124},{"bed":4,"x":5.545,"y":0.147},
{"bed":4,"x":5.56,"y":0.108},{"bed":4,"x":5.57,"y":0.132},{"bed":4,"x":5.565,"y":0.145},
{"bed":4,"x":5.58,"y":0.103},{"bed":4,"x":5.59,"y":0.119},{"bed":4,"x":5.585,"y":0.14},
{"bed":4,"x":5.60,"y":0.114},{"bed":4,"x":5.61,"y":0.129},{"bed":4,"x":5.605,"y":0.15},
{"bed":4,"x":5.62,"y":0.118},{"bed":4,"x":5.63,"y":0.128},{"bed":4,"x":5.625,"y":0.142},
{"bed":4,"x":5.64,"y":0.124},{"bed":4,"x":5.645,"y":0.134},{"bed":4,"x":5.635,"y":0.146},
{"bed":4,"x":5.655,"y":0.135},{"bed":4,"x":5.665,"y":0.14},{"bed":4,"x":5.675,"y":0.138},{"bed":4,"x":5.685,"y":0.15},{"bed":4,"x":5.695,"y":0.16},{"bed":4,"x":5.705,"y":0.175},{"bed":4,"x":5.715,"y":0.19},{"bed":4,"x":5.72,"y":0.165},
{"bed":4,"x":5.748,"y":0.26},{"bed":4,"x":5.752,"y":0.28},{"bed":4,"x":5.748,"y":0.3},{"bed":4,"x":5.752,"y":0.33},{"bed":4,"x":5.748,"y":0.36},{"bed":4,"x":5.752,"y":0.39},{"bed":4,"x":5.748,"y":0.42},{"bed":4,"x":5.752,"y":0.46},{"bed":4,"x":5.748,"y":0.5},{"bed":4,"x":5.752,"y":0.54},{"bed":4,"x":5.748,"y":0.58},{"bed":4,"x":5.752,"y":0.63},{"bed":4,"x":5.748,"y":0.68},{"bed":4,"x":5.752,"y":0.72},
{"bed":4,"x":5.748,"y":0.95},{"bed":4,"x":5.752,"y":1.02},{"bed":4,"x":5.748,"y":1.1},{"bed":4,"x":5.752,"y":1.18},{"bed":4,"x":5.748,"y":1.27},{"bed":4,"x":5.752,"y":1.36},{"bed":4,"x":5.748,"y":1.45},{"bed":4,"x":5.752,"y":1.53}
],
"fit":[
{"bed":1,"x":4.0,"y":2.65},{"bed":1,"x":4.2,"y":2.85},{"bed":1,"x":4.4,"y":3.1},{"bed":1,"x":4.6,"y":3.5},{"bed":1,"x":4.8,"y":4.0},{"bed":1,"x":5.0,"y":4.7},{"bed":1,"x":5.2,"y":5.7},{"bed":1,"x":5.35,"y":6.8},{"bed":1,"x":5.5,"y":8.6},{"bed":1,"x":5.6,"y":10.8},{"bed":1,"x":5.645,"y":12.6},
{"bed":2,"x":4.0,"y":0.6},{"bed":2,"x":4.2,"y":0.64},{"bed":2,"x":4.4,"y":0.69},{"bed":2,"x":4.6,"y":0.75},{"bed":2,"x":4.8,"y":0.83},{"bed":2,"x":5.0,"y":0.95},{"bed":2,"x":5.2,"y":1.1},{"bed":2,"x":5.35,"y":1.28},{"bed":2,"x":5.5,"y":1.6},{"bed":2,"x":5.6,"y":1.93},{"bed":2,"x":5.645,"y":2.15},
{"bed":3,"x":4.0,"y":0.188},{"bed":3,"x":4.2,"y":0.2},{"bed":3,"x":4.4,"y":0.215},{"bed":3,"x":4.6,"y":0.232},{"bed":3,"x":4.8,"y":0.26},{"bed":3,"x":5.0,"y":0.295},{"bed":3,"x":5.2,"y":0.335},{"bed":3,"x":5.35,"y":0.385},{"bed":3,"x":5.5,"y":0.45},{"bed":3,"x":5.6,"y":0.52},{"bed":3,"x":5.645,"y":0.57},
{"bed":4,"x":4.0,"y":0.126},{"bed":4,"x":4.5,"y":0.127},{"bed":4,"x":5.0,"y":0.128},{"bed":4,"x":5.5,"y":0.129},{"bed":4,"x":5.645,"y":0.13}
],
"notes":[
{"label":"CO₂ saturation","x":5.702,"y":0.0121},
{"label":"asymptote","x":5.854,"y":0.0121}
],
"lines":[
{"kind":"saturation","x":5.65},
{"kind":"asymptote","x":5.92}
]
},
"layer":[
{"data":{"name":"lines"},"transform":[{"filter":"datum.kind == 'saturation'"}],
 "mark":{"type":"rule","color":"#ff2020","strokeWidth":2,"strokeDash":[10,5]},
 "encoding":{"x":{"field":"x","type":"quantitative","axis":null}}},
{"data":{"name":"lines"},"transform":[{"filter":"datum.kind == 'asymptote'"}],
 "mark":{"type":"rule","color":"#111111","strokeWidth":2.2,"strokeDash":[13,6]},
 "encoding":{"x":{"field":"x","type":"quantitative","axis":null}}},
{"data":{"name":"pts"},
 "mark":{"type":"point","size":75,"strokeWidth":1.3,"opacity":1},
 "encoding":{
  "x":{"field":"x","type":"quantitative","scale":{"domain":[4,6],"nice":false,"zero":false},
   "axis":{"orient":"bottom","title":"Specific CO₂ stored [molCO₂ kgBed5⁻¹]","titlePadding":13,
    "values":[4,4.2,4.4,4.6,4.8,5,5.2,5.4,5.6,5.8,6],"format":".1f","labelFlush":false,"grid":false,"domain":false,
    "ticks":true,"tickSize":-7,"tickWidth":1.5,"tickColor":"#000000","tickOpacity":1,"zindex":1,"labelPadding":26}},
  "y":{"field":"y","type":"quantitative","scale":{"type":"log","domain":[0.01,100],"nice":false},
   "axis":{"orient":"left","title":"Bed 𝑖 : Bed 5 mass ratio","titlePadding":0,"titleFontSize":34,
    "values":[0.01,0.1,1,10,100],"format":"~g","labelFlush":false,"grid":false,"domain":false,
    "ticks":true,"tickSize":-7,"tickWidth":1.5,"tickColor":"#000000","tickOpacity":1,"zindex":1,"labelPadding":24}},
  "shape":{"field":"bed","type":"nominal","scale":{"domain":[1,2,3,4],"range":["M-0.72,-1L0,-0.28L0.72,-1L1,-0.72L0.28,0L1,0.72L0.72,1L0,0.28L-0.72,1L-1,0.72L-0.28,0L-1,-0.72Z","M-1,-0.26L-0.26,-0.26L-0.26,-1L0.26,-1L0.26,-0.26L1,-0.26L1,0.26L0.26,0.26L0.26,1L-0.26,1L-0.26,0.26L-1,0.26Z","circle","circle"]},
   "legend":{"title":null,"orient":"none","legendX":42,"legendY":28,"labelExpr":"'Bed ' + datum.label + ' : Bed 5 mass ratio'"}},
  "fill":{"field":"bed","type":"nominal","scale":{"domain":[1,2,3,4],"range":["#000000","#1515ff","transparent","#ff1010"]},
   "legend":{"title":null,"orient":"none","legendX":42,"legendY":28,"labelExpr":"'Bed ' + datum.label + ' : Bed 5 mass ratio'"}},
  "stroke":{"field":"bed","type":"nominal","scale":{"domain":[1,2,3,4],"range":["#000000","#1515ff","#9a9ab4","#000000"]},
   "legend":{"title":null,"orient":"none","legendX":42,"legendY":28,"labelExpr":"'Bed ' + datum.label + ' : Bed 5 mass ratio'"}}
 }},
{"data":{"name":"fit"},
 "mark":{"type":"line","color":"#1de51d","strokeWidth":5,"interpolate":"monotone"},
 "encoding":{
  "x":{"field":"x","type":"quantitative",
   "axis":{"orient":"top","labels":false,"title":null,"grid":false,"domain":false,
    "values":[4,4.2,4.4,4.6,4.8,5,5.2,5.4,5.6,5.8,6],
    "ticks":true,"tickSize":-7,"tickWidth":1.5,"tickColor":"#000000","tickOpacity":1,"zindex":1}},
  "y":{"field":"y","type":"quantitative",
   "axis":{"orient":"right","labels":false,"title":null,"grid":false,"domain":false,
    "values":[0.01,0.1,1,10,100],
    "ticks":true,"tickSize":-7,"tickWidth":1.5,"tickColor":"#000000","tickOpacity":1,"zindex":1}},
  "detail":{"field":"bed","type":"nominal"}
 }},
{"data":{"name":"notes"},"transform":[{"filter":"datum.label == 'asymptote'"}],
 "mark":{"type":"text","angle":270,"align":"left","baseline":"middle","fontSize":17,"font":"Liberation Sans","color":"#1a1a1a"},
 "encoding":{
  "x":{"field":"x","type":"quantitative",
   "axis":{"orient":"bottom","labels":false,"title":null,"grid":false,"domain":false,
    "values":[4.1,4.3,4.5,4.7,4.9,5.1,5.3,5.5,5.7,5.9],
    "ticks":true,"tickSize":-4,"tickWidth":1.5,"tickColor":"#000000","tickOpacity":1,"zindex":1}},
  "y":{"field":"y","type":"quantitative",
   "axis":{"orient":"left","labels":false,"title":null,"grid":false,"domain":false,
    "values":[0.02,0.03,0.04,0.05,0.06,0.07,0.08,0.09,0.2,0.3,0.4,0.5,0.6,0.7,0.8,0.9,2,3,4,5,6,7,8,9,20,30,40,50,60,70,80,90],
    "ticks":true,"tickSize":-4,"tickWidth":1.5,"tickColor":"#000000","tickOpacity":1,"zindex":1}},
  "text":{"field":"label","type":"nominal"}
 }},
{"data":{"name":"notes"},"transform":[{"filter":"datum.label != 'asymptote'"}],
 "mark":{"type":"text","angle":270,"align":"left","baseline":"middle","fontSize":17,"font":"Liberation Sans","color":"#1a1a1a"},
 "encoding":{
  "x":{"field":"x","type":"quantitative",
   "axis":{"orient":"top","labels":false,"title":null,"grid":false,"domain":false,
    "values":[4.1,4.3,4.5,4.7,4.9,5.1,5.3,5.5,5.7,5.9],
    "ticks":true,"tickSize":-4,"tickWidth":1.5,"tickColor":"#000000","tickOpacity":1,"zindex":1}},
  "y":{"field":"y","type":"quantitative",
   "axis":{"orient":"right","labels":false,"title":null,"grid":false,"domain":false,
    "values":[0.02,0.03,0.04,0.05,0.06,0.07,0.08,0.09,0.2,0.3,0.4,0.5,0.6,0.7,0.8,0.9,2,3,4,5,6,7,8,9,20,30,40,50,60,70,80,90],
    "ticks":true,"tickSize":-4,"tickWidth":1.5,"tickColor":"#000000","tickOpacity":1,"zindex":1}},
  "text":{"field":"label","type":"nominal"}
 }}
],
"resolve":{"axis":{"x":"independent","y":"independent"}},
"config":{
 "view":{"stroke":"#000000","strokeWidth":2},
 "axis":{"labelFont":"Liberation Sans","labelFontSize":25,"labelColor":"#1a1a1a","labelOverlap":false,
  "titleFont":"Liberation Sans","titleFontSize":32,"titleFontWeight":"normal","titleColor":"#1a1a1a"},
 "legend":{"labelFont":"Liberation Sans","labelFontSize":22,"labelColor":"#1a1a1a","labelLimit":400,"symbolSize":75,"symbolStrokeWidth":1.3,"rowPadding":6.2,"labelOffset":30,"padding":0}
}
}
